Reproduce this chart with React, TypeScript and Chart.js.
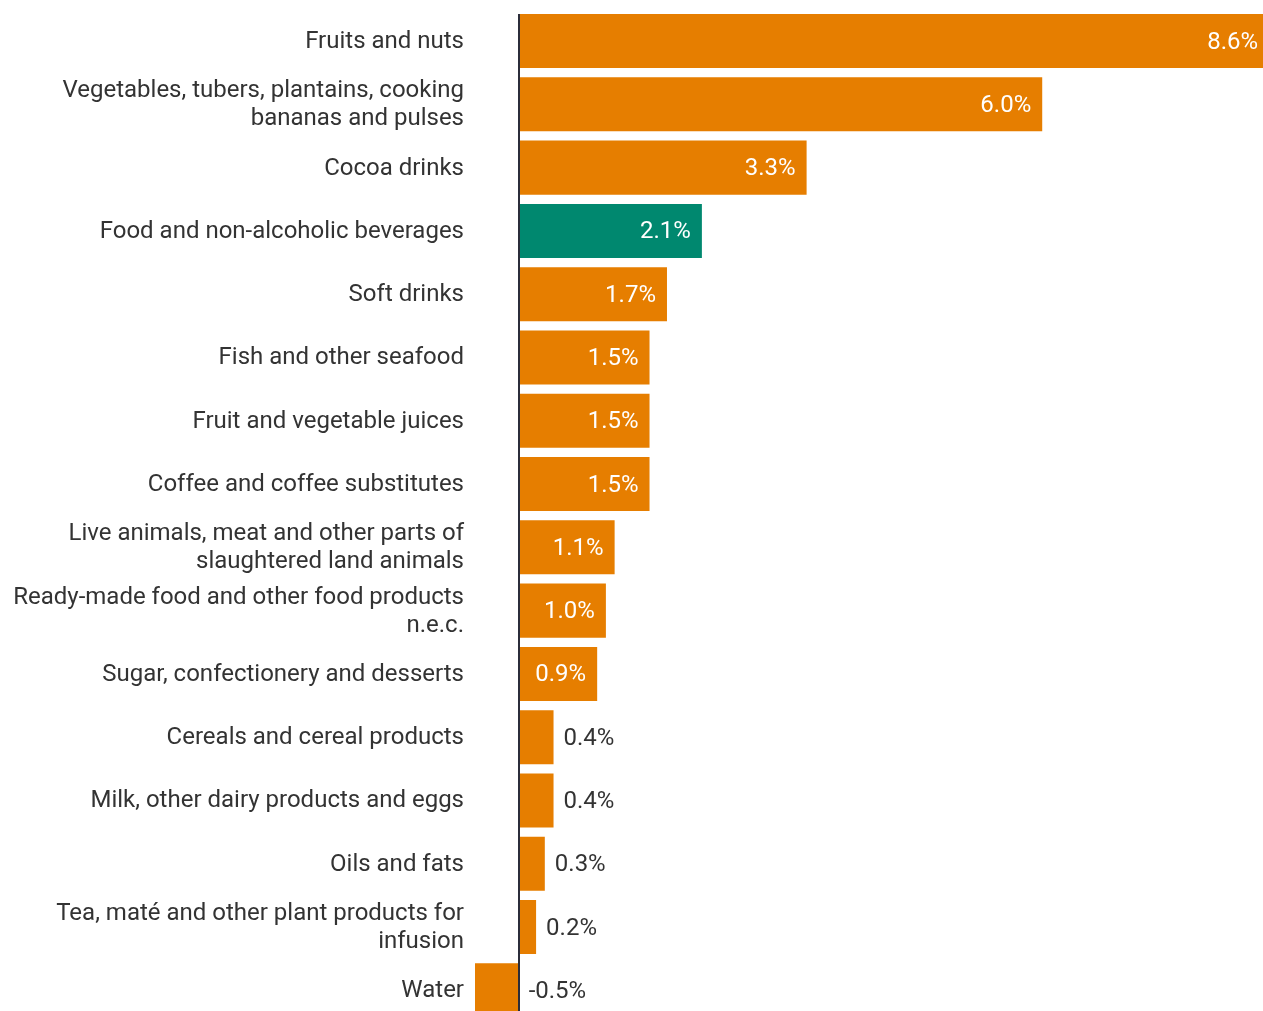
import React, { useEffect, useRef } from "react";
import { Chart, registerables } from "chart.js";

Chart.register(...registerables);

const categories: (string | string[])[] = [
  "Fruits and nuts",
  ["Vegetables, tubers, plantains, cooking", "bananas and pulses"],
  "Cocoa drinks",
  "Food and non-alcoholic beverages",
  "Soft drinks",
  "Fish and other seafood",
  "Fruit and vegetable juices",
  "Coffee and coffee substitutes",
  ["Live animals, meat and other parts of", "slaughtered land animals"],
  ["Ready-made food and other food products", "n.e.c."],
  "Sugar, confectionery and desserts",
  "Cereals and cereal products",
  "Milk, other dairy products and eggs",
  "Oils and fats",
  ["Tea, maté and other plant products for", "infusion"],
  "Water",
];

const values: number[] = [8.6, 6.0, 3.3, 2.1, 1.7, 1.5, 1.5, 1.5, 1.1, 1.0, 0.9, 0.4, 0.4, 0.3, 0.2, -0.5];

const highlightIndex = 3;
const ORANGE = "#E67E00";
const TEAL = "#00886F";
const FONT = "Roboto";
const FONT_SIZE = 24;

const valueLabels = {
  id: "valueLabels",
  afterDatasetsDraw(chart: any) {
    const ctx = chart.ctx;
    const meta = chart.getDatasetMeta(0);
    const xScale = chart.scales.x;
    const zero = xScale.getPixelForValue(0);
    ctx.save();
    ctx.font = `${FONT_SIZE}px ${FONT}`;
    ctx.textBaseline = "middle";
    meta.data.forEach((bar: any, i: number) => {
      const v = values[i];
      const txt = v.toFixed(1) + "%";
      const w = ctx.measureText(txt).width;
      const barW = Math.abs(bar.x - zero);
      if (v > 0 && barW > w + 22) {
        ctx.fillStyle = "#ffffff";
        ctx.textAlign = "right";
        ctx.fillText(txt, bar.x - 11, bar.y + 1.5);
      } else {
        ctx.fillStyle = "#333333";
        ctx.textAlign = "left";
        ctx.fillText(txt, Math.max(bar.x, zero) + 10, bar.y + 1.5);
      }
    });
    ctx.restore();
  },
};

const zeroLine = {
  id: "zeroLine",
  afterDatasetsDraw(chart: any) {
    const ctx = chart.ctx;
    const x = Math.round(chart.scales.x.getPixelForValue(0));
    const { top, bottom } = chart.chartArea;
    ctx.save();
    ctx.strokeStyle = "#2b2d3a";
    ctx.lineWidth = 2;
    ctx.beginPath();
    ctx.moveTo(x, top + 4.5);
    ctx.lineTo(x, bottom);
    ctx.stroke();
    ctx.restore();
  },
};

export default function App() {
  const ref = useRef<HTMLCanvasElement>(null);
  useEffect(() => {
    if (!ref.current) return;
    const chart = new Chart(ref.current, {
      type: "bar",
      data: {
        labels: categories,
        datasets: [
          {
            data: values,
            backgroundColor: values.map((_, i) => (i === highlightIndex ? TEAL : ORANGE)),
            borderWidth: 0,
            categoryPercentage: 1,
            barPercentage: 0.854,
          },
        ],
      },
      options: {
        indexAxis: "y",
        animation: false,
        responsive: false,
        devicePixelRatio: 1,
        layout: { padding: { top: 9.4, right: 0, bottom: 0, left: 0 } },
        plugins: {
          legend: { display: false },
          tooltip: { enabled: false },
        },
        scales: {
          x: {
            display: false,
            min: -0.5,
            max: 8.53,
          },
          y: {
            grid: { display: false, drawTicks: false },
            border: { display: false },
            ticks: {
              autoSkip: false,
              color: "#333333",
              padding: 11,
              labelOffset: 1,
              font: { family: FONT, size: FONT_SIZE, lineHeight: 1.17 },
            },
            afterFit(scale: any) {
              scale.width = 475;
              scale.paddingTop = 0;
              scale.paddingBottom = 0;
            },
          },
        },
      },
      plugins: [valueLabels, zeroLine],
    });
    return () => chart.destroy();
  }, []);
  return (
    <div
      style={{
        position: "fixed",
        top: 0,
        left: 0,
        width: 1263,
        height: 1011,
        overflow: "hidden",
        background: "#ffffff",
      }}
    >
      <canvas ref={ref} width={1263} height={1022} style={{ display: "block" }} />
    </div>
  );
}
